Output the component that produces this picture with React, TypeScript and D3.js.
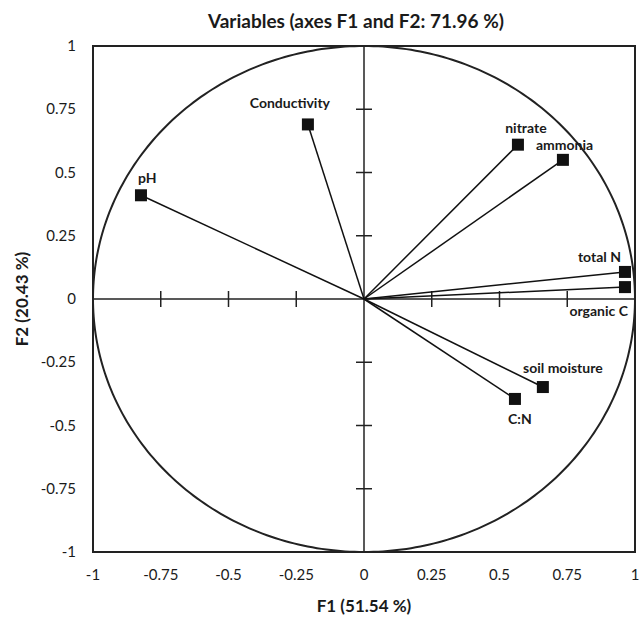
import React from "react";
import * as d3 from "d3";

// variables on F1 / F2
const names = ["Conductivity", "pH", "nitrate", "ammonia", "total N", "organic C", "soil moisture", "C:N"];
const f1 = [-0.207, -0.823, 0.568, 0.734, 0.963, 0.963, 0.66, 0.557];
const f2 = [0.69, 0.41, 0.61, 0.55, 0.107, 0.047, -0.348, -0.395];
// label placement (anchor, dx, dy) per variable
const anchors = ["middle", "start", "middle", "start", "end", "end", "middle", "middle"];
const dxs = [-18, -3, 8, -27, -4, 3, 20, 5];
const dys = [-16, -12, -12, -10, -10, 29, -14, 25];

const ticks = [-1, -0.75, -0.5, -0.25, 0, 0.25, 0.5, 0.75, 1];

const font = "Lato, 'Open Sans', sans-serif";

export default function App() {
  const width = 641, height = 620;
  const left = 93, right = 635, top = 46, bottom = 552;

  const x = d3.scaleLinear().domain([-1, 1]).range([left, right]);
  const y = d3.scaleLinear().domain([-1, 1]).range([bottom, top]);

  const circle = d3.line<number>()
    .x(a => x(Math.cos(a)))
    .y(a => y(Math.sin(a)))
    .curve(d3.curveLinearClosed)(d3.range(0, 2 * Math.PI, Math.PI / 180));

  return (
    <svg width={width} height={height} style={{ position: "absolute", left: 0, top: 0, fontFamily: font }}>
      <rect x={0} y={0} width={width} height={height} fill="white" />
      <text x={356} y={28} textAnchor="middle" fontSize={19} fontWeight="bold" fill="#1a1a1a">
        Variables (axes F1 and F2: 71.96 %)
      </text>

      <path d={circle || ""} fill="none" stroke="#222" strokeWidth={2} />

      {/* axes through the origin */}
      <line x1={x(0)} x2={x(0)} y1={y(1)} y2={y(-1)} stroke="#222" strokeWidth={1.5} />
      <line x1={x(-1)} x2={x(1)} y1={y(0)} y2={y(0)} stroke="#222" strokeWidth={1.5} />
      {ticks.filter(t => Math.abs(t) < 1 && t !== 0).map(t => (
        <g key={"t" + t}>
          <line x1={x(0) - 8} x2={x(0) + 8} y1={y(t)} y2={y(t)} stroke="#222" strokeWidth={1.5} />
          <line x1={x(t)} x2={x(t)} y1={y(0) - 8} y2={y(0) + 8} stroke="#222" strokeWidth={1.5} />
        </g>
      ))}

      {names.map((n, i) => (
        <line key={"l" + n} x1={x(0)} y1={y(0)} x2={x(f1[i])} y2={y(f2[i])} stroke="#111" strokeWidth={1.5} />
      ))}
      {names.map((n, i) => (
        <rect key={"m" + n} x={x(f1[i]) - 6} y={y(f2[i]) - 6} width={12} height={12} fill="#111" />
      ))}
      {names.map((n, i) => (
        <text key={"n" + n} x={x(f1[i]) + dxs[i]} y={y(f2[i]) + dys[i]} textAnchor={anchors[i]}
          fontSize={14} fontWeight="bold" fill="#1a1a1a">{n}</text>
      ))}

      <rect x={left} y={top} width={right - left} height={bottom - top} fill="none" stroke="#222" strokeWidth={2} />

      {ticks.map(t => (
        <text key={"y" + t} x={left - 17} y={y(t) + 5} textAnchor="end" fontSize={15} fill="#1a1a1a">{t}</text>
      ))}
      {ticks.map(t => (
        <text key={"x" + t} x={x(t)} y={bottom + 28} textAnchor="middle" fontSize={15} fill="#1a1a1a">{t}</text>
      ))}

      <text x={(left + right) / 2} y={bottom + 60} textAnchor="middle" fontSize={17} fontWeight="bold" fill="#1a1a1a">
        F1 (51.54 %)
      </text>
      <text transform={`translate(28,${y(0)}) rotate(-90)`} textAnchor="middle" fontSize={17} fontWeight="bold" fill="#1a1a1a">
        F2 (20.43 %)
      </text>
    </svg>
  );
}
